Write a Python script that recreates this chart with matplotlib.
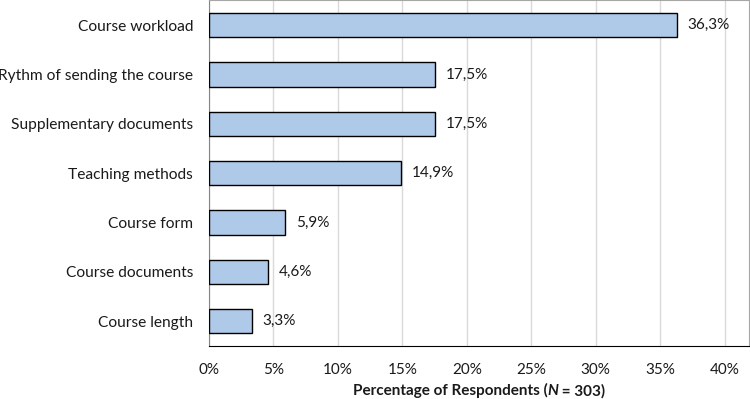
import matplotlib.pyplot as plt
from matplotlib.offsetbox import TextArea, HPacker, AnchoredOffsetbox

# Data (top to bottom)
categories = [
    "Course workload",
    "Rythm of sending the course",
    "Supplementary documents",
    "Teaching methods",
    "Course form",
    "Course documents",
    "Course length",
]
values = [36.3, 17.5, 17.5, 14.9, 5.9, 4.6, 3.3]
ticks = [0, 5, 10, 15, 20, 25, 30, 35, 40]

plt.rcParams['font.family'] = ['Lato', 'DejaVu Sans']
text_color = '#1a1a1a'

fig = plt.figure(figsize=(7.5, 3.99), dpi=100)
ax = fig.add_axes([0.2787, 0.133, 0.7200, 0.866])

pos = list(range(len(categories)))
bars = ax.barh(pos, values, height=0.49, color='#aecae8',
               edgecolor='black', linewidth=1.0, zorder=3)

# Value labels with a comma decimal separator
for bar, v in zip(bars, values):
    ax.text(bar.get_width() + 0.85, bar.get_y() + bar.get_height() / 2,
            f'{v:.1f}%'.replace('.', ','), ha='left', va='center',
            fontsize=11, color=text_color)

ax.set_ylim(6.5, -0.5)
ax.set_xlim(0, 41.9)
ax.set_yticks(pos)
ax.set_yticklabels(categories, fontsize=11.2, color=text_color)
ax.set_xticks(ticks)
ax.set_xticklabels([f'{t}%' for t in ticks], fontsize=11, color=text_color)
ax.tick_params(axis='both', length=0)
ax.tick_params(axis='y', pad=11.5)
ax.tick_params(axis='x', pad=12)

ax.grid(True, axis='x', color='#d9d9d9', linewidth=1.0, zorder=0)
ax.spines['left'].set_color('#868686')
ax.spines['bottom'].set_color('black')
ax.spines['top'].set_color('#a6a6a6')
ax.spines['right'].set_color('#a6a6a6')

# x-axis title with a bold-italic N
parts = [
    TextArea("Percentage of Respondents (",
             textprops=dict(fontsize=11, fontweight='bold', color=text_color)),
    TextArea("N",
             textprops=dict(fontsize=11, fontweight='bold', fontstyle='italic', color=text_color)),
    TextArea(" = 303)",
             textprops=dict(fontsize=11, fontweight='bold', color=text_color)),
]
box = HPacker(children=parts, align='baseline', pad=0, sep=0)
anchored = AnchoredOffsetbox(loc='center', child=box, frameon=False,
                             bbox_to_anchor=(0.5, -0.13), bbox_transform=ax.transAxes,
                             borderpad=0, pad=0)
ax.add_artist(anchored)

fig.savefig('out.png', dpi=100, facecolor='white')
